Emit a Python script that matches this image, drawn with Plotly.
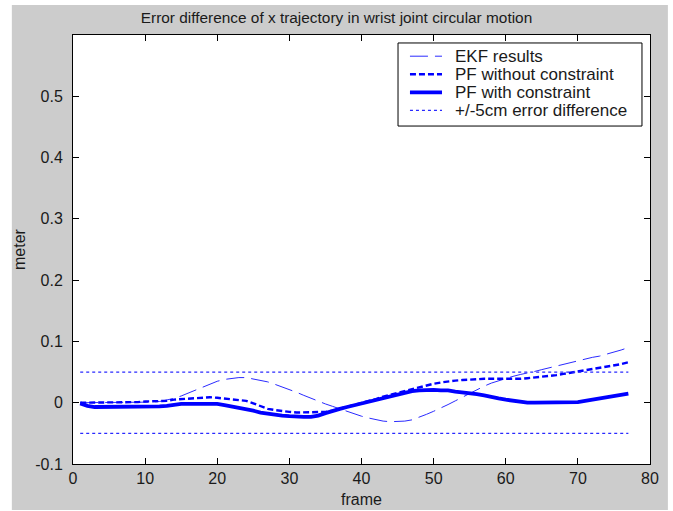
import plotly.graph_objects as go

# frame index
frames = list(range(1, 78))

# x-trajectory error difference (meter)
ekf_results = [
    0.000, 0.000, 0.000, 0.000, 0.000, 0.000, 0.000, 0.000, 0.000, 0.000,
    0.001, 0.002, 0.004, 0.007, 0.011, 0.016, 0.021, 0.026, 0.031, 0.035,
    0.038, 0.040, 0.041, 0.041, 0.039, 0.037, 0.034, 0.030, 0.026, 0.022,
    0.017, 0.012, 0.007, 0.003, -0.002, -0.006, -0.010, -0.014, -0.019, -0.022,
    -0.025, -0.028, -0.030, -0.031, -0.031, -0.030, -0.028, -0.024, -0.019, -0.014,
    -0.009, -0.003, 0.003, 0.009, 0.016, 0.022, 0.027, 0.032, 0.036, 0.040,
    0.043, 0.046, 0.048, 0.051, 0.054, 0.057, 0.060, 0.063, 0.065, 0.068,
    0.071, 0.074, 0.076, 0.079, 0.082, 0.086, 0.090,
]

pf_without_constraint = [
    0.000, 0.000, 0.001, 0.001, 0.001, 0.001, 0.001, 0.001, 0.001, 0.002,
    0.002, 0.002, 0.003, 0.005, 0.006, 0.007, 0.008, 0.009, 0.009, 0.008,
    0.007, 0.006, 0.004, 0.003, -0.001, -0.006, -0.010, -0.012, -0.014, -0.015,
    -0.016, -0.016, -0.016, -0.016, -0.015, -0.013, -0.010, -0.007, -0.004, -0.001,
    0.002, 0.006, 0.010, 0.013, 0.016, 0.020, 0.023, 0.026, 0.029, 0.031,
    0.033, 0.035, 0.036, 0.037, 0.038, 0.039, 0.039, 0.039, 0.039, 0.038,
    0.038, 0.039, 0.040, 0.041, 0.042, 0.043, 0.045, 0.047, 0.049, 0.050,
    0.052, 0.054, 0.056, 0.058, 0.060, 0.063, 0.066,
]

pf_with_constraint = [
    -0.001, -0.005, -0.007, -0.007, -0.006, -0.006, -0.006, -0.006, -0.006, -0.006,
    -0.006, -0.006, -0.005, -0.003, -0.002, -0.002, -0.002, -0.002, -0.002, -0.002,
    -0.004, -0.006, -0.008, -0.011, -0.013, -0.016, -0.018, -0.019, -0.021, -0.022,
    -0.023, -0.023, -0.023, -0.021, -0.017, -0.013, -0.010, -0.007, -0.004, -0.001,
    0.002, 0.005, 0.008, 0.011, 0.014, 0.016, 0.019, 0.020, 0.021, 0.021,
    0.020, 0.020, 0.018, 0.017, 0.016, 0.014, 0.012, 0.009, 0.007, 0.005,
    0.003, 0.001, 0.000, 0.000, 0.000, 0.000, 0.000, 0.000, 0.000, 0.001,
    0.003, 0.005, 0.007, 0.009, 0.011, 0.013, 0.015,
]

# +/- 5 cm tolerance band
band_x = [1, 77]
band_limit = 0.05

x_ticks = [0, 10, 20, 30, 40, 50, 60, 70, 80]
y_ticks = [-0.1, 0, 0.1, 0.2, 0.3, 0.4, 0.5]
y_tick_text = ["-0.1", "0", "0.1", "0.2", "0.3", "0.4", "0.5"]

series_names = ["EKF results", "PF without constraint", "PF with constraint",
                "+/-5cm error difference"]

FONT = "Liberation Sans, Arial, sans-serif"
TEXT = "#1a1a1a"
BLUE = "#0000ff"
THIN_BLUE = "#2a2aff"

styles = [
    dict(color=THIN_BLUE, width=1, dash="18px,7px"),
    dict(color=BLUE, width=2.4, dash="6px,3px"),
    dict(color=BLUE, width=3.8),
    dict(color=THIN_BLUE, width=1.2, dash="3px,3px"),
]

fig = go.Figure()

fig.add_trace(go.Scatter(x=frames, y=ekf_results, mode="lines",
                         name=series_names[0], line=styles[0]))
fig.add_trace(go.Scatter(x=frames, y=pf_without_constraint, mode="lines",
                         name=series_names[1], line=styles[1]))
fig.add_trace(go.Scatter(x=frames, y=pf_with_constraint, mode="lines",
                         name=series_names[2], line=styles[2]))
fig.add_trace(go.Scatter(
    x=band_x + [None] + band_x,
    y=[band_limit, band_limit, None, -band_limit, -band_limit],
    mode="lines", name=series_names[3], line=styles[3],
))

# grey figure panel with a white plotting box on top of it
fig.add_shape(type="rect", xref="paper", yref="paper",
              x0=-0.106, x1=1.031, y0=-0.107, y1=1.07,
              fillcolor="#cccccc", line=dict(width=0), layer="below")
fig.add_shape(type="rect", xref="paper", yref="paper",
              x0=0, x1=1, y0=0, y1=1,
              fillcolor="white", line=dict(width=0), layer="below")

# compact boxed legend in the upper right corner
fig.add_shape(type="rect", xref="paper", yref="paper",
              x0=0.5633, x1=0.9861, y0=0.7878, y1=0.9814,
              fillcolor="white", line=dict(color="black", width=1), layer="above")
legend_rows = [0.9506, 0.9085, 0.8664, 0.8243]
for name, style, ly in zip(series_names, styles, legend_rows):
    fig.add_shape(type="line", xref="paper", yref="paper",
                  x0=0.584, x1=0.6395, y0=ly, y1=ly,
                  line=style, layer="above")
    fig.add_annotation(text=name, xref="paper", yref="paper",
                       x=0.6586, y=ly, xanchor="left", yanchor="middle",
                       showarrow=False,
                       font=dict(family=FONT, size=17, color=TEXT))

axis_common = dict(
    showline=True, linecolor="black", linewidth=1, mirror="ticks",
    ticks="inside", ticklen=6, tickcolor="black", tickwidth=1,
    showgrid=False, zeroline=False, automargin=False,
    tickfont=dict(family=FONT, size=16, color=TEXT),
)

fig.update_xaxes(
    range=[0, 80], tickvals=x_ticks,
    title=dict(text="frame", font=dict(family=FONT, size=16, color=TEXT), standoff=7),
    **axis_common,
)
fig.update_yaxes(
    range=[-0.1, 0.6], tickvals=y_ticks, ticktext=y_tick_text,
    ticklabelstandoff=6,
    title=dict(text="meter", font=dict(family=FONT, size=16, color=TEXT), standoff=5),
    **axis_common,
)

fig.update_layout(
    width=673, height=511, autosize=False,
    margin=dict(l=73, r=23, t=35, b=47),
    paper_bgcolor="white", plot_bgcolor="rgba(0,0,0,0)",
    title=dict(
        text="Error difference of x trajectory in wrist joint circular motion",
        x=0.5, xref="container", xanchor="center",
        y=0.965, yref="container", yanchor="middle",
        font=dict(family=FONT, size=15.4, color=TEXT),
    ),
    showlegend=False,
)

fig.write_html("out.html")
